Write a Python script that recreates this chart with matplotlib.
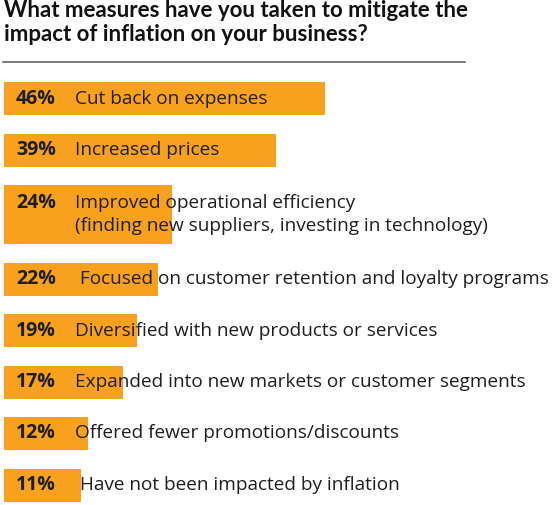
import matplotlib.pyplot as plt

# Donnees
pcts = [46, 39, 24, 22, 19, 17, 12, 11]
labels = [
	"Cut back on expenses",
	"Increased prices",
	"Improved operational efficiency\n(finding new suppliers, investing in technology)",
	" Focused on customer retention and loyalty programs",
	"Diversified with new products or services",
	"Expanded into new markets or customer segments",
	"Offered fewer promotions/discounts",
	" Have not been impacted by inflation",
]
title_lines = [
	"What measures have you taken to mitigate the",
	"impact of inflation on your business?",
]

bar_color = "#F8A11E"
text_color = "#1e1e1e"
font = "Open Sans"

W, H = 560, 505
px_per_pct = 6.98

fig = plt.figure(figsize=(W / 100, H / 100), dpi=100)
fig.patch.set_facecolor("white")
ax = fig.add_axes([4 / W, 0, (W - 4) / W, 1])
ax.set_xlim(0, (W - 4) / px_per_pct)
ax.set_ylim(H, 0)
ax.axis("off")

# Position verticale des barres (en pixels), hauteur selon le nombre de lignes
top = 82
for pct, lab in zip(pcts, labels):
	n_lines = lab.count("\n") + 1
	h = 33 + 26 * (n_lines - 1)
	yc = top + h / 2
	ax.barh(yc, pct, height=h, left=0, color=bar_color, zorder=1)
	# le pourcentage reste sur la premiere ligne du libelle
	ax.text(12 / px_per_pct, yc - 12 * (n_lines - 1), f"{pct}%", fontsize=14,
		fontweight="bold", family=font, color=text_color, va="center", ha="left", zorder=2)
	ax.text(71 / px_per_pct, yc, lab, fontsize=13.7, family=font,
		color=text_color, va="center", ha="left", linespacing=1.35, zorder=2)
	top += h + 18.5

# Titre (deux lignes placees sur leur ligne de base)
for i, line in enumerate(title_lines):
	fig.text(4 / W, 1 - (17 + 24 * i) / H, line, fontsize=16, fontweight="bold",
		family="Lato", color="#111111", va="baseline", ha="left")
fig.add_artist(plt.Line2D([3 / W, 465 / W], [1 - 62 / H, 1 - 62 / H],
	color="#666666", linewidth=1.2))

plt.savefig("out.png", dpi=100, facecolor=fig.get_facecolor())
